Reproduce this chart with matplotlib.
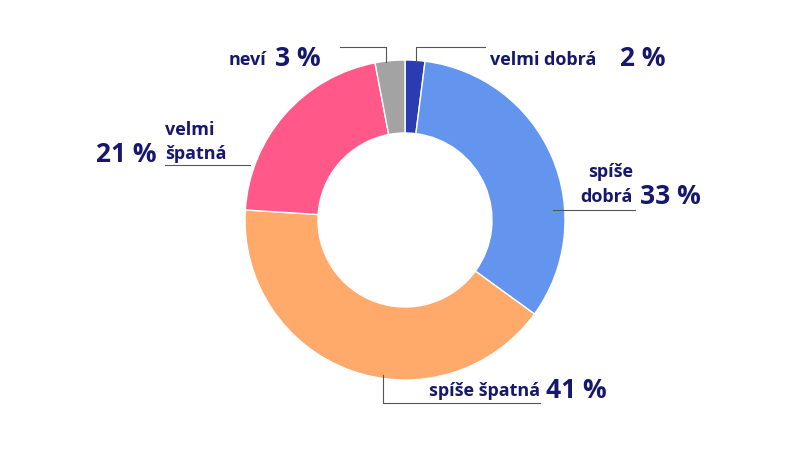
import matplotlib.pyplot as plt

labels = ['velmi dobrá', 'spíše dobrá', 'spíše špatná', 'velmi špatná', 'neví']
values = [2, 33, 41, 21, 3]
colors = ['#2b3cb0', '#6395ef', '#ffa96b', '#ff5889', '#a3a3a3']
navy = '#17176b'
H = 449

fig = plt.figure(figsize=(8, 4.49), dpi=100)
ax = fig.add_axes([0, 0, 1, 1])
ax.set_xlim(0, 800)
ax.set_ylim(0, H)
ax.axis('off')

ax.pie(values, colors=colors, startangle=90, counterclock=False,
       center=(405, H - 220), radius=160,
       wedgeprops=dict(width=73, edgecolor='white', linewidth=1))
ax.set_xlim(0, 800)
ax.set_ylim(0, H)
ax.set_aspect('equal')


def Y(y):
    return H - y


def line(pts):
    ax.plot([p[0] for p in pts], [Y(p[1]) for p in pts], color='#555555', lw=0.8)


small = dict(fontsize=13, fontweight='bold', color=navy, family='Open Sans')
big = dict(fontsize=19, fontweight='bold', color=navy, family='Open Sans')

# velmi dobrá
line([(416, 62), (416, 47), (485, 47)])
ax.text(490, Y(60), labels[0], ha='left', va='center', **small)
ax.text(620, Y(58), f'{values[0]} %', ha='left', va='center', **big)

# neví
line([(386, 62), (386, 47), (340, 47)])
ax.text(266, Y(60), labels[4], ha='right', va='center', **small)
ax.text(275, Y(58), f'{values[4]} %', ha='left', va='center', **big)

# spíše dobrá
line([(553, 210), (635, 210)])
ax.text(633, Y(172), 'spíše', ha='right', va='center', **small)
ax.text(633, Y(197), 'dobrá', ha='right', va='center', **small)
ax.text(640, Y(197), f'{values[1]} %', ha='left', va='center', **big)

# spíše špatná
line([(383, 375), (383, 403), (540, 403)])
ax.text(540, Y(391), labels[2], ha='right', va='center', **small)
ax.text(546, Y(391), f'{values[2]} %', ha='left', va='center', **big)

# velmi špatná
line([(250, 165), (165, 165)])
ax.text(165, Y(130), 'velmi', ha='left', va='center', **small)
ax.text(165, Y(154), 'špatná', ha='left', va='center', **small)
ax.text(157, Y(155), f'{values[3]} %', ha='right', va='center', **big)

fig.savefig('out.png', dpi=100)
